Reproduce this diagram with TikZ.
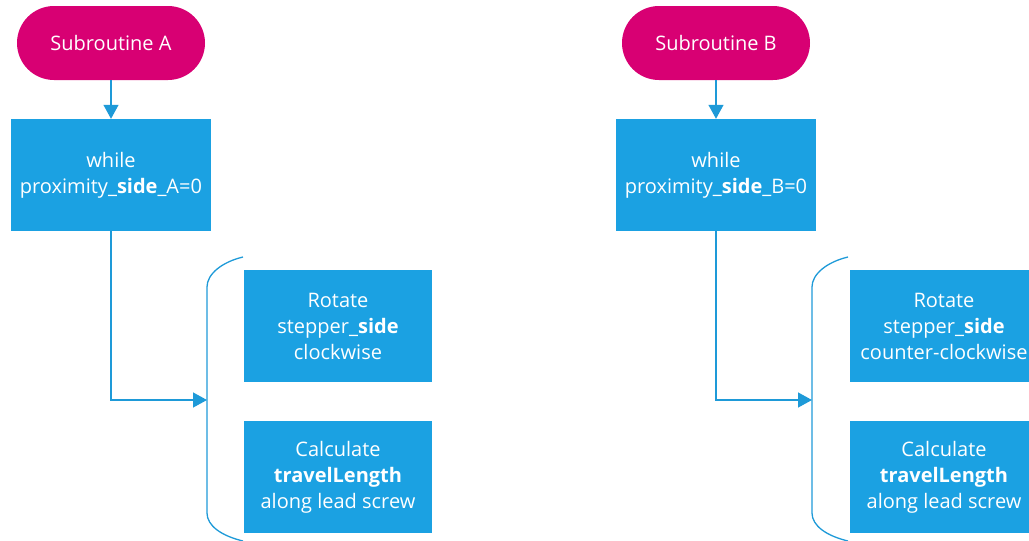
\documentclass[tikz,border=0pt]{standalone}
\usepackage{fontspec}
\setmainfont{Open Sans}
\usetikzlibrary{arrows.meta}
\definecolor{termcol}{HTML}{D80073}
\definecolor{boxcol}{HTML}{1BA1E2}
\definecolor{linecol}{HTML}{1E9AD8}
\tikzset{
  terminal/.style={fill=termcol, text=white, rounded corners=37pt, minimum width=188pt, minimum height=74pt, inner sep=0pt, font=\fontsize{20}{26}\selectfont},
  procbox/.style={fill=boxcol, text=white, minimum height=112pt, inner sep=0pt, align=center, font=\fontsize{20}{26}\selectfont},
  flow/.style={draw=linecol, line width=1.3pt, -{Triangle[length=14pt,width=15pt]}},
  bracestyle/.style={draw=linecol, line width=1.3pt},
}
\begin{document}
\begin{tikzpicture}[x=1pt,y=-1pt]
\useasboundingbox (0,0) rectangle (1029,541);
\clip (0,0) rectangle (1029,541);
% ---- left flow ----
\node[terminal] (subA) at (111,43) {Subroutine A};
\node[procbox, minimum width=200pt] (whileA) at (111,175) {while\\proximity\_\textbf{side}\_A=0};
\node[procbox, minimum width=188pt] (rotA) at (338,326) {Rotate\\stepper\_\textbf{side}\\clockwise};
\node[procbox, minimum width=188pt] (calcA) at (338,477) {Calculate\\\textbf{travelLength}\\along lead screw};
\coordinate (braceA) at (207,400);
\draw[flow] (subA.south) -- (whileA.north);
\draw[flow] (whileA.south) |- (braceA);
\draw[bracestyle] (243,257) .. controls (222,262) and (207,274) .. (207,287) -- (207,513) .. controls (207,526) and (222,536) .. (243,541);
% ---- right flow ----
\node[terminal] (subB) at (716,43) {Subroutine B};
\node[procbox, minimum width=200pt] (whileB) at (716,175) {while\\proximity\_\textbf{side}\_B=0};
\node[procbox, minimum width=188pt] (rotB) at (944,326) {Rotate\\stepper\_\textbf{side}\\counter-clockwise};
\node[procbox, minimum width=188pt] (calcB) at (944,477) {Calculate\\\textbf{travelLength}\\along lead screw};
\coordinate (braceB) at (812,400);
\draw[flow] (subB.south) -- (whileB.north);
\draw[flow] (whileB.south) |- (braceB);
\draw[bracestyle] (848,257) .. controls (827,262) and (812,274) .. (812,287) -- (812,513) .. controls (812,526) and (827,536) .. (848,541);
\end{tikzpicture}
\end{document}
